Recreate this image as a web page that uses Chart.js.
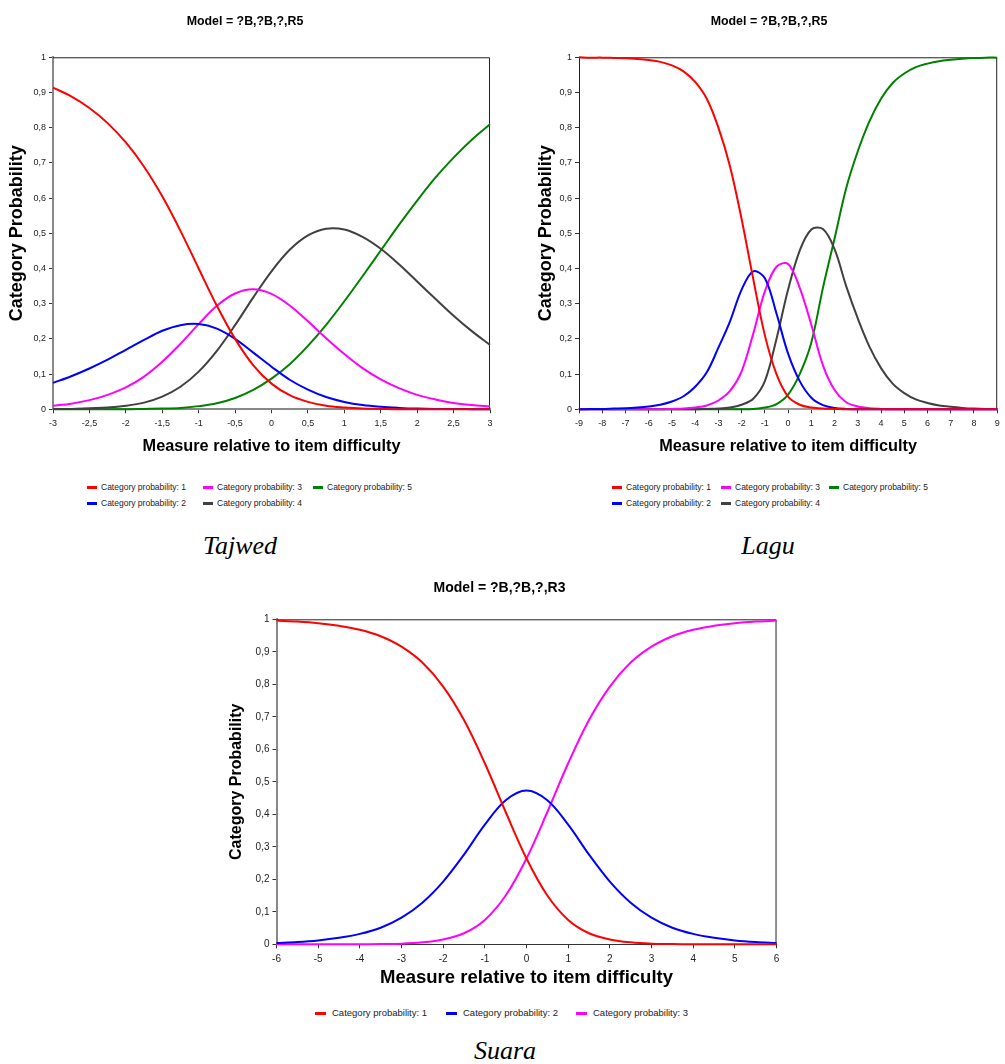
<!DOCTYPE html>
<html><head><meta charset="utf-8">
<script src="https://cdn.jsdelivr.net/npm/chart.js@4.4.0/dist/chart.umd.min.js"></script>
<style>
body{margin:0;background:#fff;width:1005px;height:1064px;position:relative;overflow:hidden;font-family:"Liberation Sans",Arial,sans-serif;}
canvas{position:absolute;}
.li{position:absolute;white-space:nowrap;color:#222;}
.mk{position:absolute;height:3px;}
.cap{position:absolute;font-family:"Liberation Serif","Times New Roman",serif;font-style:italic;font-size:26px;line-height:26px;text-align:center;color:#000;}
</style></head><body>
<canvas id="c1" width="500" height="470" style="left:0;top:0"></canvas>
<canvas id="c2" width="470" height="470" style="left:535px;top:0"></canvas>
<canvas id="c3" width="566" height="435" style="left:218px;top:565px"></canvas>
<div class="cap" style="left:140px;width:200px;top:533px">Tajwed</div>
<div class="cap" style="left:668px;width:200px;top:533px">Lagu</div>
<div class="cap" style="left:405px;width:200px;top:1038px">Suara</div>
<div id="legends"></div>
<script>
// ---------- data ----------
const seriesNames5 = ["Category probability: 1","Category probability: 2","Category probability: 3","Category probability: 4","Category probability: 5"];
const seriesNames3 = ["Category probability: 1","Category probability: 2","Category probability: 3"];
const seriesColors = ["#FF0000","#0000FF","#FF00FF","#404040","#008000"];
const titleTop = "Model = ?B,?B,?,R5";
const titleBottom = "Model = ?B,?B,?,R3";
const xTitle = "Measure relative to item difficulty";
const yTitle = "Category Probability";

// Tajwed
const xs1 = [-3,-2.75,-2.5,-2.25,-2,-1.75,-1.5,-1.25,-1,-0.75,-0.5,-0.25,0,0.25,0.5,0.75,1,1.25,1.5,1.75,2,2.25,2.5,2.75,3];
const red1 = [0.914,0.889,0.856,0.813,0.758,0.689,0.605,0.507,0.400,0.294,0.200,0.125,0.073,0.040,0.021,0.010,0.005,0.002,0.001,0,0,0,0,0,0];
const blue1 = [0.075,0.094,0.116,0.141,0.169,0.197,0.223,0.239,0.242,0.229,0.200,0.161,0.121,0.084,0.056,0.035,0.021,0.012,0.007,0.004,0.002,0.001,0.001,0,0];
const pink1 = [0.010,0.016,0.026,0.041,0.062,0.093,0.135,0.186,0.242,0.294,0.329,0.341,0.328,0.295,0.250,0.202,0.157,0.117,0.085,0.060,0.041,0.028,0.018,0.012,0.008];
const black1 = [0.001,0.001,0.003,0.005,0.010,0.019,0.036,0.064,0.107,0.166,0.239,0.318,0.392,0.453,0.494,0.513,0.511,0.490,0.456,0.412,0.363,0.314,0.266,0.222,0.183];
const green1 = [0,0,0,0,0,0.001,0.002,0.004,0.009,0.017,0.032,0.055,0.087,0.128,0.180,0.240,0.307,0.378,0.451,0.524,0.593,0.658,0.715,0.766,0.810];

// Lagu
const xs2 = [-9,-8.5,-8,-7.5,-7,-6.5,-6,-5.5,-5,-4.5,-4,-3.5,-3,-2.5,-2,-1.5,-1,-0.5,0,0.5,1,1.5,2,2.5,3,3.5,4,4.5,5,5.5,6,6.5,7,7.5,8,8.5,9];
const red2 = [1.000,0.999,0.999,0.998,0.997,0.995,0.992,0.987,0.977,0.960,0.930,0.882,0.800,0.690,0.540,0.370,0.210,0.100,0.036,0.013,0.005,0.002,0.001,0,0,0,0,0,0,0,0,0,0,0,0,0,0];
const blue2 = [0.000,0.001,0.001,0.002,0.003,0.005,0.008,0.013,0.022,0.037,0.064,0.105,0.175,0.250,0.340,0.392,0.372,0.272,0.158,0.080,0.033,0.012,0.004,0.001,0,0,0,0,0,0,0,0,0,0,0,0,0];
const pink2 = [0,0,0,0,0,0,0,0,0.001,0.002,0.005,0.011,0.025,0.052,0.108,0.215,0.335,0.405,0.413,0.345,0.240,0.125,0.055,0.020,0.008,0.003,0.001,0,0,0,0,0,0,0,0,0,0];
const black2 = [0,0,0,0,0,0,0,0,0,0,0,0.001,0.002,0.005,0.013,0.030,0.080,0.200,0.340,0.451,0.511,0.512,0.455,0.350,0.258,0.178,0.117,0.073,0.046,0.028,0.018,0.011,0.007,0.004,0.002,0.001,0.001];
const green2 = [0,0,0,0,0,0,0,0,0,0,0,0,0,0,0,0.001,0.005,0.015,0.042,0.100,0.190,0.345,0.485,0.628,0.733,0.818,0.882,0.927,0.954,0.972,0.982,0.989,0.993,0.996,0.998,0.999,0.999];

// Suara
const xs3 = [-6,-5.5,-5,-4.5,-4,-3.5,-3,-2.5,-2,-1.5,-1,-0.5,0,0.5,1,1.5,2,2.5,3,3.5,4,4.5,5,5.5,6];
const red3 = [0.996,0.993,0.988,0.980,0.968,0.948,0.916,0.867,0.793,0.690,0.557,0.407,0.264,0.150,0.075,0.034,0.015,0.006,0.002,0.001,0,0,0,0,0];
const blue3 = [0.004,0.007,0.012,0.020,0.032,0.051,0.082,0.128,0.193,0.276,0.368,0.443,0.473,0.443,0.368,0.276,0.193,0.128,0.082,0.051,0.032,0.020,0.012,0.007,0.004];
const pink3 = [0,0,0,0,0,0.001,0.002,0.006,0.015,0.034,0.075,0.150,0.264,0.407,0.557,0.690,0.793,0.867,0.916,0.948,0.968,0.980,0.988,0.993,0.996];

// ---------- drawing ----------
const FONT = '"Liberation Sans", Arial, sans-serif';
function fmt(v){ const r = Math.round(v*100)/100; return String(r).replace('.', ','); }

const framePlugin = {
  id:'frame',
  beforeDatasetsDraw(chart){
    const {ctx, chartArea:a} = chart;
    ctx.save();
    ctx.strokeStyle = '#222'; ctx.lineWidth = 1;
    ctx.beginPath();
    ctx.moveTo(a.left, a.top + 0.5);
    ctx.lineTo(a.right - 0.5, a.top + 0.5);
    ctx.lineTo(a.right - 0.5, a.bottom);
    ctx.stroke();
    ctx.restore();
  }
};

function makeChart(id, o){
  const datasets = o.series.map((s, k) => ({
    label: o.names[k],
    data: o.xs.map((x, i) => ({x: x, y: s[i]})),
    borderColor: seriesColors[k],
    backgroundColor: seriesColors[k],
    borderWidth: 2,
    pointRadius: 0,
    fill: false,
    tension: 0.35,
    clip: false
  }));
  return new Chart(document.getElementById(id), {
    type: 'line',
    data: { datasets },
    plugins: [framePlugin],
    options: {
      responsive: false, animation: false, events: [],
      layout: { padding: o.padding },
      plugins: {
        legend: { display: false },
        tooltip: { enabled: false },
        title: { display: true, text: o.title, color: '#000',
          font: { family: FONT, size: o.titleSize, weight: 'bold' }, padding: o.titlePad }
      },
      scales: {
        x: {
          type: 'linear', min: o.xmin, max: o.xmax,
          afterFit: s => { s.height = o.xAxisH; },
          border: { display: true, color: o.xBorder, width: o.xBorderW },
          grid: { drawOnChartArea: false, drawTicks: true, tickLength: 4, color: '#333' },
          ticks: { stepSize: o.xstep, autoSkip: false, maxRotation: 0, padding: o.xTickPad,
            color: '#222', font: { family: FONT, size: o.tickSize }, callback: v => fmt(v) },
          title: { display: true, text: xTitle, color: '#000', padding: {top:0, bottom:0},
            font: { family: FONT, size: o.xTitleSize, weight: 'bold' } }
        },
        y: {
          type: 'linear', min: 0, max: 1,
          afterFit: s => { s.width = o.yAxisW; },
          border: { display: true, color: o.yBorder, width: o.yBorderW },
          grid: { drawOnChartArea: false, drawTicks: true, tickLength: 4, color: '#333' },
          ticks: { stepSize: 0.1, autoSkip: false, padding: 3,
            color: '#222', font: { family: FONT, size: o.tickSize }, callback: v => fmt(v) },
          title: { display: true, text: yTitle, color: '#000', padding: {top: o.yTitlePad, bottom: 0},
            font: { family: FONT, size: o.yTitleSize, weight: 'bold' } }
        }
      }
    }
  });
}

makeChart('c1', { xs: xs1, series: [red1, blue1, pink1, black1, green1], names: seriesNames5,
  xmin: -3, xmax: 3, xstep: 0.5, title: titleTop, titleSize: 12.4, titlePad: {top: 13.8, bottom: 28.6},
  padding: {left: 0, right: 10, top: 0, bottom: 13.4}, xAxisH: 47.3, yAxisW: 53,
  xTickPad: 5.3, tickSize: 9, xTitleSize: 16.3, yTitleSize: 18, yTitlePad: 6.2,
  xBorder: '#888', xBorderW: 2, yBorder: '#888', yBorderW: 2 });

makeChart('c2', { xs: xs2, series: [red2, blue2, pink2, black2, green2], names: seriesNames5,
  xmin: -9, xmax: 9, xstep: 1, title: titleTop, titleSize: 12.4, titlePad: {top: 13.8, bottom: 28.6},
  padding: {left: 0, right: 2, top: 0, bottom: 13.4}, xAxisH: 47.3, yAxisW: 44,
  xTickPad: 5.3, tickSize: 9, xTitleSize: 16.3, yTitleSize: 18, yTitlePad: 0.5,
  xBorder: '#999', xBorderW: 2, yBorder: '#222', yBorderW: 1 });

makeChart('c3', { xs: xs3, series: [red3, blue3, pink3], names: seriesNames3,
  xmin: -6, xmax: 6, xstep: 1, title: titleBottom, titleSize: 14, titlePad: {top: 14.6, bottom: 22.9},
  padding: {left: 0, right: 3, top: 0, bottom: 11.2}, xAxisH: 44.5, yAxisW: 58.5,
  xTickPad: 4.7, tickSize: 10, xTitleSize: 18.5, yTitleSize: 16, yTitlePad: 9,
  xBorder: '#333', xBorderW: 1, yBorder: '#888', yBorderW: 2 });

// ---------- legends (HTML) ----------
function legend(names, cols, rows, perCol, fontSize, mkW, textOff){
  const host = document.getElementById('legends');
  names.forEach((n, i) => {
    const c = Math.floor(i / perCol), r = i % perCol;
    const x = cols[c], y = rows[r];
    const mk = document.createElement('div');
    mk.className = 'mk';
    mk.style.cssText = `left:${x}px;top:${y-1.5}px;width:${mkW}px;background:${seriesColors[i]}`;
    host.appendChild(mk);
    const t = document.createElement('div');
    t.className = 'li';
    t.textContent = n;
    t.style.cssText = `left:${x+textOff}px;top:${y-fontSize*0.6}px;font-size:${fontSize}px;line-height:${fontSize*1.2}px`;
    host.appendChild(t);
  });
}
legend(seriesNames5, [87, 203, 313], [487, 503], 2, 8.5, 10, 14);
legend(seriesNames5, [612, 721, 829], [487, 503], 2, 8.5, 10, 14);
legend(seriesNames3, [315, 446, 576], [1013], 1, 9.5, 11, 17);
</script>
</body></html>
